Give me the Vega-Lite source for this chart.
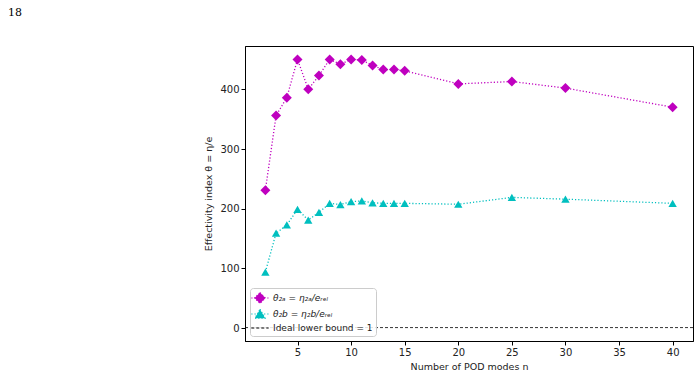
{
  "$schema": "https://vega.github.io/schema/vega-lite/v6.json",
  "width": 448,
  "height": 295,
  "autosize": {"type": "none"},
  "padding": {"left": 245, "top": 46, "right": 7, "bottom": 37},
  "title": {
    "text": "18",
    "anchor": "start",
    "frame": "group",
    "dx": -237,
    "offset": 28,
    "font": "DejaVu Serif",
    "fontSize": 11,
    "fontWeight": "normal",
    "color": "black"
  },
  "config": {
    "font": "DejaVu Sans",
    "view": {"stroke": "black", "strokeWidth": 1},
    "axis": {
      "grid": false,
      "domainColor": "black",
      "tickColor": "black",
      "tickSize": 4,
      "labelColor": "#222222",
      "labelFontSize": 10,
      "labelPadding": 2,
      "titleColor": "#222222",
      "titleFontSize": 9.5,
      "titleFontWeight": "normal"
    }
  },
  "datasets": {
    "theta": [
      {"n": 2, "theta": 231, "series": "θ₂ₐ = η₂ₐ/eᵣₑₗ"},
      {"n": 3, "theta": 356, "series": "θ₂ₐ = η₂ₐ/eᵣₑₗ"},
      {"n": 4, "theta": 386, "series": "θ₂ₐ = η₂ₐ/eᵣₑₗ"},
      {"n": 5, "theta": 450, "series": "θ₂ₐ = η₂ₐ/eᵣₑₗ"},
      {"n": 6, "theta": 400, "series": "θ₂ₐ = η₂ₐ/eᵣₑₗ"},
      {"n": 7, "theta": 423, "series": "θ₂ₐ = η₂ₐ/eᵣₑₗ"},
      {"n": 8, "theta": 450, "series": "θ₂ₐ = η₂ₐ/eᵣₑₗ"},
      {"n": 9, "theta": 442, "series": "θ₂ₐ = η₂ₐ/eᵣₑₗ"},
      {"n": 10, "theta": 450, "series": "θ₂ₐ = η₂ₐ/eᵣₑₗ"},
      {"n": 11, "theta": 449, "series": "θ₂ₐ = η₂ₐ/eᵣₑₗ"},
      {"n": 12, "theta": 440, "series": "θ₂ₐ = η₂ₐ/eᵣₑₗ"},
      {"n": 13, "theta": 433, "series": "θ₂ₐ = η₂ₐ/eᵣₑₗ"},
      {"n": 14, "theta": 433, "series": "θ₂ₐ = η₂ₐ/eᵣₑₗ"},
      {"n": 15, "theta": 431, "series": "θ₂ₐ = η₂ₐ/eᵣₑₗ"},
      {"n": 20, "theta": 409, "series": "θ₂ₐ = η₂ₐ/eᵣₑₗ"},
      {"n": 25, "theta": 413, "series": "θ₂ₐ = η₂ₐ/eᵣₑₗ"},
      {"n": 30, "theta": 402, "series": "θ₂ₐ = η₂ₐ/eᵣₑₗ"},
      {"n": 40, "theta": 370, "series": "θ₂ₐ = η₂ₐ/eᵣₑₗ"},
      {"n": 2, "theta": 94, "series": "θ₂b = η₂b/eᵣₑₗ"},
      {"n": 3, "theta": 159, "series": "θ₂b = η₂b/eᵣₑₗ"},
      {"n": 4, "theta": 173, "series": "θ₂b = η₂b/eᵣₑₗ"},
      {"n": 5, "theta": 199, "series": "θ₂b = η₂b/eᵣₑₗ"},
      {"n": 6, "theta": 181, "series": "θ₂b = η₂b/eᵣₑₗ"},
      {"n": 7, "theta": 194, "series": "θ₂b = η₂b/eᵣₑₗ"},
      {"n": 8, "theta": 209, "series": "θ₂b = η₂b/eᵣₑₗ"},
      {"n": 9, "theta": 207, "series": "θ₂b = η₂b/eᵣₑₗ"},
      {"n": 10, "theta": 212, "series": "θ₂b = η₂b/eᵣₑₗ"},
      {"n": 11, "theta": 213, "series": "θ₂b = η₂b/eᵣₑₗ"},
      {"n": 12, "theta": 210, "series": "θ₂b = η₂b/eᵣₑₗ"},
      {"n": 13, "theta": 209, "series": "θ₂b = η₂b/eᵣₑₗ"},
      {"n": 14, "theta": 209, "series": "θ₂b = η₂b/eᵣₑₗ"},
      {"n": 15, "theta": 209, "series": "θ₂b = η₂b/eᵣₑₗ"},
      {"n": 20, "theta": 207.5, "series": "θ₂b = η₂b/eᵣₑₗ"},
      {"n": 25, "theta": 219, "series": "θ₂b = η₂b/eᵣₑₗ"},
      {"n": 30, "theta": 216, "series": "θ₂b = η₂b/eᵣₑₗ"},
      {"n": 40, "theta": 209, "series": "θ₂b = η₂b/eᵣₑₗ"}
    ],
    "bound": [
      {"theta": 1, "series": "Ideal lower bound = 1"}
    ]
  },
  "data": {"name": "theta"},
  "encoding": {
    "x": {
      "field": "n",
      "type": "quantitative",
      "scale": {"domain": [0.1, 41.9], "nice": false, "zero": false},
      "axis": {"values": [5, 10, 15, 20, 25, 30, 35, 40], "title": "Number of POD modes  n"}
    },
    "y": {
      "field": "theta",
      "type": "quantitative",
      "scale": {"domain": [-21.45, 472.45], "nice": false, "zero": false},
      "axis": {"values": [0, 100, 200, 300, 400], "title": "Effectivity index  θ = η/e", "titlePadding": 6}
    },
    "color": {
      "field": "series",
      "type": "nominal",
      "scale": {
        "domain": ["θ₂ₐ = η₂ₐ/eᵣₑₗ", "θ₂b = η₂b/eᵣₑₗ", "Ideal lower bound = 1"],
        "range": ["#bf00bf", "#00bfbf", "black"]
      },
      "legend": {
        "title": null,
        "orient": "bottom-left",
        "offset": 5,
        "padding": 3,
        "rowPadding": 0,
        "symbolSize": 144,
        "symbolStrokeWidth": 1.2,
        "labelOffset": 6,
        "labelFontSize": 9,
        "labelColor": "#222222",
        "strokeColor": "#cccccc",
        "fillColor": "rgba(255,255,255,0.85)",
        "cornerRadius": 3,
        "encode": {
          "symbols": {
            "update": {
              "shape": {"signal": "datum.value === 'Ideal lower bound = 1' ? 'M-1.45,0L1.45,0' : (indexof(datum.value, 'b') >= 0 ? 'M-1.45,0L1.45,0M0,-0.8L0.85,0.7L-0.85,0.7Z' : 'M-1.45,0L1.45,0M0,-0.9L0.9,0L0,0.9L-0.9,0Z')"},
              "strokeDash": {"signal": "datum.value === 'Ideal lower bound = 1' ? [3, 2] : [1.2, 2]"},
              "fill": {"signal": "datum.value === 'Ideal lower bound = 1' ? 'transparent' : scale('color', datum.value)"},
              "fillOpacity": {"value": 1},
              "stroke": {"signal": "scale('color', datum.value)"}
            }
          },
          "labels": {
            "update": {
              "fontStyle": {"signal": "datum.value === 'Ideal lower bound = 1' ? 'normal' : 'italic'"}
            }
          }
        }
      }
    }
  },
  "layer": [
    {
      "data": {"name": "bound"},
      "mark": {"type": "rule", "strokeDash": [3, 2], "strokeWidth": 0.8},
      "encoding": {
        "x": null
      }
    },
    {
      "mark": {"type": "line", "strokeDash": [1.2, 2], "strokeWidth": 1.3}
    },
    {
      "transform": [{"filter": "datum.series === 'θ₂ₐ = η₂ₐ/eᵣₑₗ'"}],
      "mark": {"type": "point", "shape": "diamond", "filled": true, "opacity": 1, "size": 100}
    },
    {
      "transform": [{"filter": "datum.series === 'θ₂b = η₂b/eᵣₑₗ'"}],
      "mark": {"type": "point", "shape": "triangle-up", "filled": true, "opacity": 1, "size": 70}
    }
  ]
}
